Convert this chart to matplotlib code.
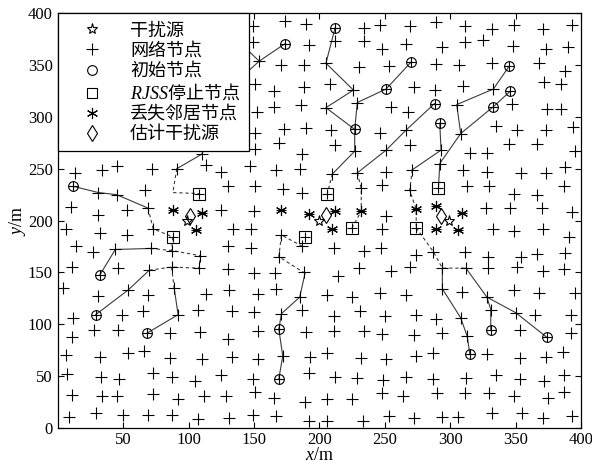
import matplotlib
matplotlib.use("Agg")
import matplotlib.pyplot as plt
from matplotlib.lines import Line2D

plt.rcParams['mathtext.fontset'] = 'custom'
plt.rcParams['mathtext.it'] = 'Liberation Serif:italic'
plt.rcParams['mathtext.rm'] = 'Liberation Serif'
plt.rcParams['font.family'] = ['Liberation Serif', 'Noto Sans CJK SC']

# network nodes (x, y) in metres
node_x = [149, 174, 190, 234, 246, 269, 149, 192, 212, 234, 248, 266,
          154, 171, 188, 205, 230, 253, 151, 165, 188, 208, 226, 272,
          152, 165, 186, 205, 229, 255, 268, 151, 173, 190, 209, 246, 266,
          169, 212, 269,
          289, 311, 332, 349, 371, 393, 294, 311, 325, 348, 373, 390,
          289, 307, 332, 368, 388, 288, 310, 333, 372, 385,
          305, 347, 374, 385, 308, 335, 351, 373, 394, 345, 366,
          13, 34, 45, 72, 91, 113, 125, 110, 31, 45, 67, 130,
          10, 31, 53, 69, 125, 6, 32, 53, 73, 134,
          14, 27, 44, 71, 87, 109, 130, 11, 46, 70, 87, 108, 130,
          151, 187, 227, 251, 147, 167, 185, 210, 229, 251, 271,
          151, 172, 187, 232, 248, 269, 150, 251, 148, 171, 248,
          148, 187, 211, 234, 247, 274, 169,
          150, 166, 188, 214, 230, 255, 269,
          293, 315, 328, 395, 292, 310, 328, 354, 373, 388,
          313, 330, 349, 366, 387, 327, 346, 370, 393,
          333, 349, 371, 391, 287, 311, 329, 354, 366, 388,
          294, 312, 329, 351, 371, 387,
          4, 31, 54, 69, 89, 113, 131, 12, 49, 65, 92, 107, 133,
          11, 28, 46, 86, 109, 130, 6, 32, 54, 66, 86, 110, 133,
          7, 33, 47, 73, 87, 105, 125, 11, 34, 45, 73, 92, 112, 129,
          9, 29, 50, 69, 87, 107, 131,
          153, 167, 185, 206, 225, 246, 266, 150, 171, 187, 211, 231, 250, 274,
          153, 190, 211, 234, 248, 272, 153, 172, 193, 206, 232, 251, 274,
          149, 192, 212, 229, 249, 266, 151, 165, 189, 206, 225, 248, 264,
          149, 167, 192, 206, 233, 253, 272,
          294, 309, 328, 349, 368, 395, 289, 308, 331, 350, 365, 392,
          294, 313, 353, 392, 287, 328, 353, 373, 386,
          287, 312, 335, 353, 372, 387, 290, 311, 330, 349, 375, 387,
          294, 306, 332, 355, 371, 393]
node_y = [388, 393, 390, 386, 389, 388, 372, 370, 373, 373, 366, 371,
          354, 350, 350, 352, 348, 349, 332, 325, 329, 332, 326, 329,
          305, 310, 312, 309, 314, 310, 305, 285, 288, 289, 287, 285, 287,
          275, 273, 273,
          392, 388, 385, 389, 385, 389, 368, 372, 374, 369, 366, 368,
          351, 350, 352, 352, 344, 326, 330, 327, 334, 332,
          312, 313, 308, 308, 284, 291, 287, 287, 290, 274, 274,
          246, 249, 253, 250, 250, 254, 247, 264, 227, 225, 229, 233,
          213, 205, 210, 212, 210, 192, 188, 186, 192, 192,
          175, 170, 172, 173, 171, 166, 175, 155, 154, 152, 155, 154, 153,
          269, 264, 267, 268, 253, 249, 250, 245, 246, 247, 249,
          233, 230, 227, 231, 234, 229, 209, 204, 192, 186, 192,
          173, 175, 173, 171, 173, 167, 165,
          149, 149, 150, 146, 154, 151, 155,
          268, 265, 265, 267, 255, 249, 247, 246, 246, 252,
          233, 233, 226, 225, 233, 212, 212, 212, 208,
          192, 190, 192, 184, 170, 170, 165, 165, 168, 169,
          154, 154, 154, 155, 151, 153,
          135, 127, 133, 128, 135, 129, 133, 106, 109, 113, 109, 114, 113,
          87, 94, 94, 91, 92, 86, 70, 68, 72, 74, 67, 66, 68,
          52, 49, 47, 53, 49, 45, 51, 31, 30, 30, 32, 28, 30, 30,
          10, 14, 12, 12, 12, 8, 9,
          129, 134, 126, 128, 126, 130, 128, 112, 110, 114, 108, 113, 108, 109,
          93, 92, 93, 93, 90, 89, 66, 69, 68, 72, 67, 66, 69,
          47, 53, 49, 48, 46, 49, 34, 29, 25, 28, 28, 33, 30,
          12, 11, 6, 6, 6, 11, 9,
          134, 131, 126, 133, 130, 130, 105, 106, 114, 111, 109, 109,
          91, 88, 94, 91, 72, 71, 67, 68, 73,
          47, 48, 51, 47, 45, 51, 33, 33, 33, 30, 29, 34,
          10, 10, 14, 14, 9, 11]

# jammers and their estimates
jam_x = [99, 200, 299]
jam_y = [200, 200, 200]
est_x = [101, 205, 293]
est_y = [204, 205, 204]

# initial nodes
init_x = [212, 174, 270, 251, 227, 288, 292, 345, 346, 333,
          12, 32, 29, 68, 169, 169, 331, 374, 315]
init_y = [386, 371, 353, 327, 288, 313, 294, 349, 325, 310,
          233, 147, 109, 91, 95, 47, 94, 87, 71]

# RJSS stop nodes
stop_x = [108, 88, 206, 189, 225, 274, 291]
stop_y = [226, 184, 226, 184, 193, 193, 231]

# nodes that lost neighbours
lost_x = [88, 110, 106, 171, 192, 212, 210, 232, 274, 289, 309, 289, 306]
lost_y = [210, 207, 191, 210, 206, 209, 192, 209, 211, 214, 207, 192, 191]

# hop paths: solid = search hops, dashed = continuation to stop node
solid_paths = [
    [(134, 378), (154, 354), (174, 371)],
    [(154, 354), (136, 333)],
    [(212, 386), (205, 352), (226, 326), (205, 309), (227, 288), (227, 267), (210, 245)],
    [(270, 353), (251, 327), (229, 314), (227, 288)],
    [(288, 313), (266, 287), (251, 268), (229, 246)],
    [(292, 294), (293, 268), (271, 249)],
    [(345, 349), (333, 327), (305, 312), (308, 284)],
    [(346, 325), (333, 310), (308, 284), (292, 255), (291, 231)],
    [(294, 154), (294, 134), (308, 106), (313, 88), (315, 71)],
    [(312, 154), (328, 126), (331, 114), (331, 94)],
    [(328, 126), (350, 111), (374, 87)],
    [(118, 284), (110, 264), (91, 250)],
    [(12, 233), (31, 227), (45, 225), (69, 212)],
    [(32, 147), (44, 172), (71, 173)],
    [(29, 109), (54, 133), (70, 152)],
    [(89, 135), (92, 109), (68, 91)],
    [(189, 149), (185, 126), (171, 110), (169, 95), (172, 69), (169, 47)],
]
dash_paths = [
    [(210, 245), (206, 226)],
    [(229, 246), (232, 231), (232, 209), (225, 193)],
    [(271, 249), (269, 229), (274, 211), (274, 193)],
    [(274, 193), (287, 170), (294, 154), (312, 154)],
    [(91, 250), (88, 227), (108, 226)],
    [(69, 212), (73, 192), (88, 184)],
    [(71, 173), (87, 171), (109, 166), (108, 154)],
    [(88, 184), (87, 171)],
    [(70, 152), (87, 155), (108, 154)],
    [(87, 155), (89, 135)],
    [(189, 149), (169, 165), (171, 186), (187, 175)],
]

fig = plt.figure(figsize=(5.92, 4.65), dpi=100)
ax = fig.add_axes([0.0975, 0.0806, 0.884, 0.8904])

lc = '#3a3a3a'
for p in solid_paths:
    ax.plot([q[0] for q in p], [q[1] for q in p], '-', color=lc, lw=0.8, zorder=1)
for p in dash_paths:
    ax.plot([q[0] for q in p], [q[1] for q in p], color=lc, lw=0.8,
            ls=(0, (3, 2.5)), zorder=1)

mk = dict(color='k', mfc='none', mew=0.8, ls='none', zorder=3)
ax.plot(node_x, node_y, marker='+', ms=8, **mk)
ax.plot(init_x + stop_x + lost_x, init_y + stop_y + lost_y, marker='+', ms=7, **mk)
ax.plot(jam_x, jam_y, marker='*', ms=8, **mk)
ax.plot(init_x, init_y, marker='o', ms=7, **mk)
ax.plot(stop_x, stop_y, marker='s', ms=8, **mk)
ax.plot(lost_x, lost_y, marker=(6, 2, 0), ms=8, **mk)
ax.plot(est_x, est_y, marker='d', ms=8, **mk)

ax.set_xlim(0, 400)
ax.set_ylim(0, 400)
ax.set_xticks(range(50, 401, 50))
ax.set_yticks(range(0, 401, 50))
ax.tick_params(direction='in', top=True, right=True, length=4, width=0.8,
               labelsize=12)
for s in ax.spines.values():
    s.set_linewidth(0.9)
ax.set_xlabel('$x$/m', fontsize=13, labelpad=-1)
ax.set_ylabel('$y$/m', fontsize=13, labelpad=0)

handles = [
    Line2D([], [], marker='*', ms=8, **mk),
    Line2D([], [], marker='+', ms=8, **mk),
    Line2D([], [], marker='o', ms=7, **mk),
    Line2D([], [], marker='s', ms=7, **mk),
    Line2D([], [], marker=(6, 2, 0), ms=8, **mk),
    Line2D([], [], marker='d', ms=8, **mk),
]
labels = ['干扰源', '网络节点', '初始节点', '$RJSS$停止节点', '丢失邻居节点', '估计干扰源']
leg = ax.legend(handles, labels, loc='upper left', bbox_to_anchor=(0, 1),
                borderaxespad=0, fancybox=False, framealpha=1, edgecolor='k',
                prop={'family': 'Noto Sans CJK SC', 'size': 13},
                handlelength=2.9, handletextpad=0.65, labelspacing=0.12,
                borderpad=0.45)
leg.get_frame().set_linewidth(0.9)
leg.set_zorder(5)

fig.savefig('out.png', dpi=100)
